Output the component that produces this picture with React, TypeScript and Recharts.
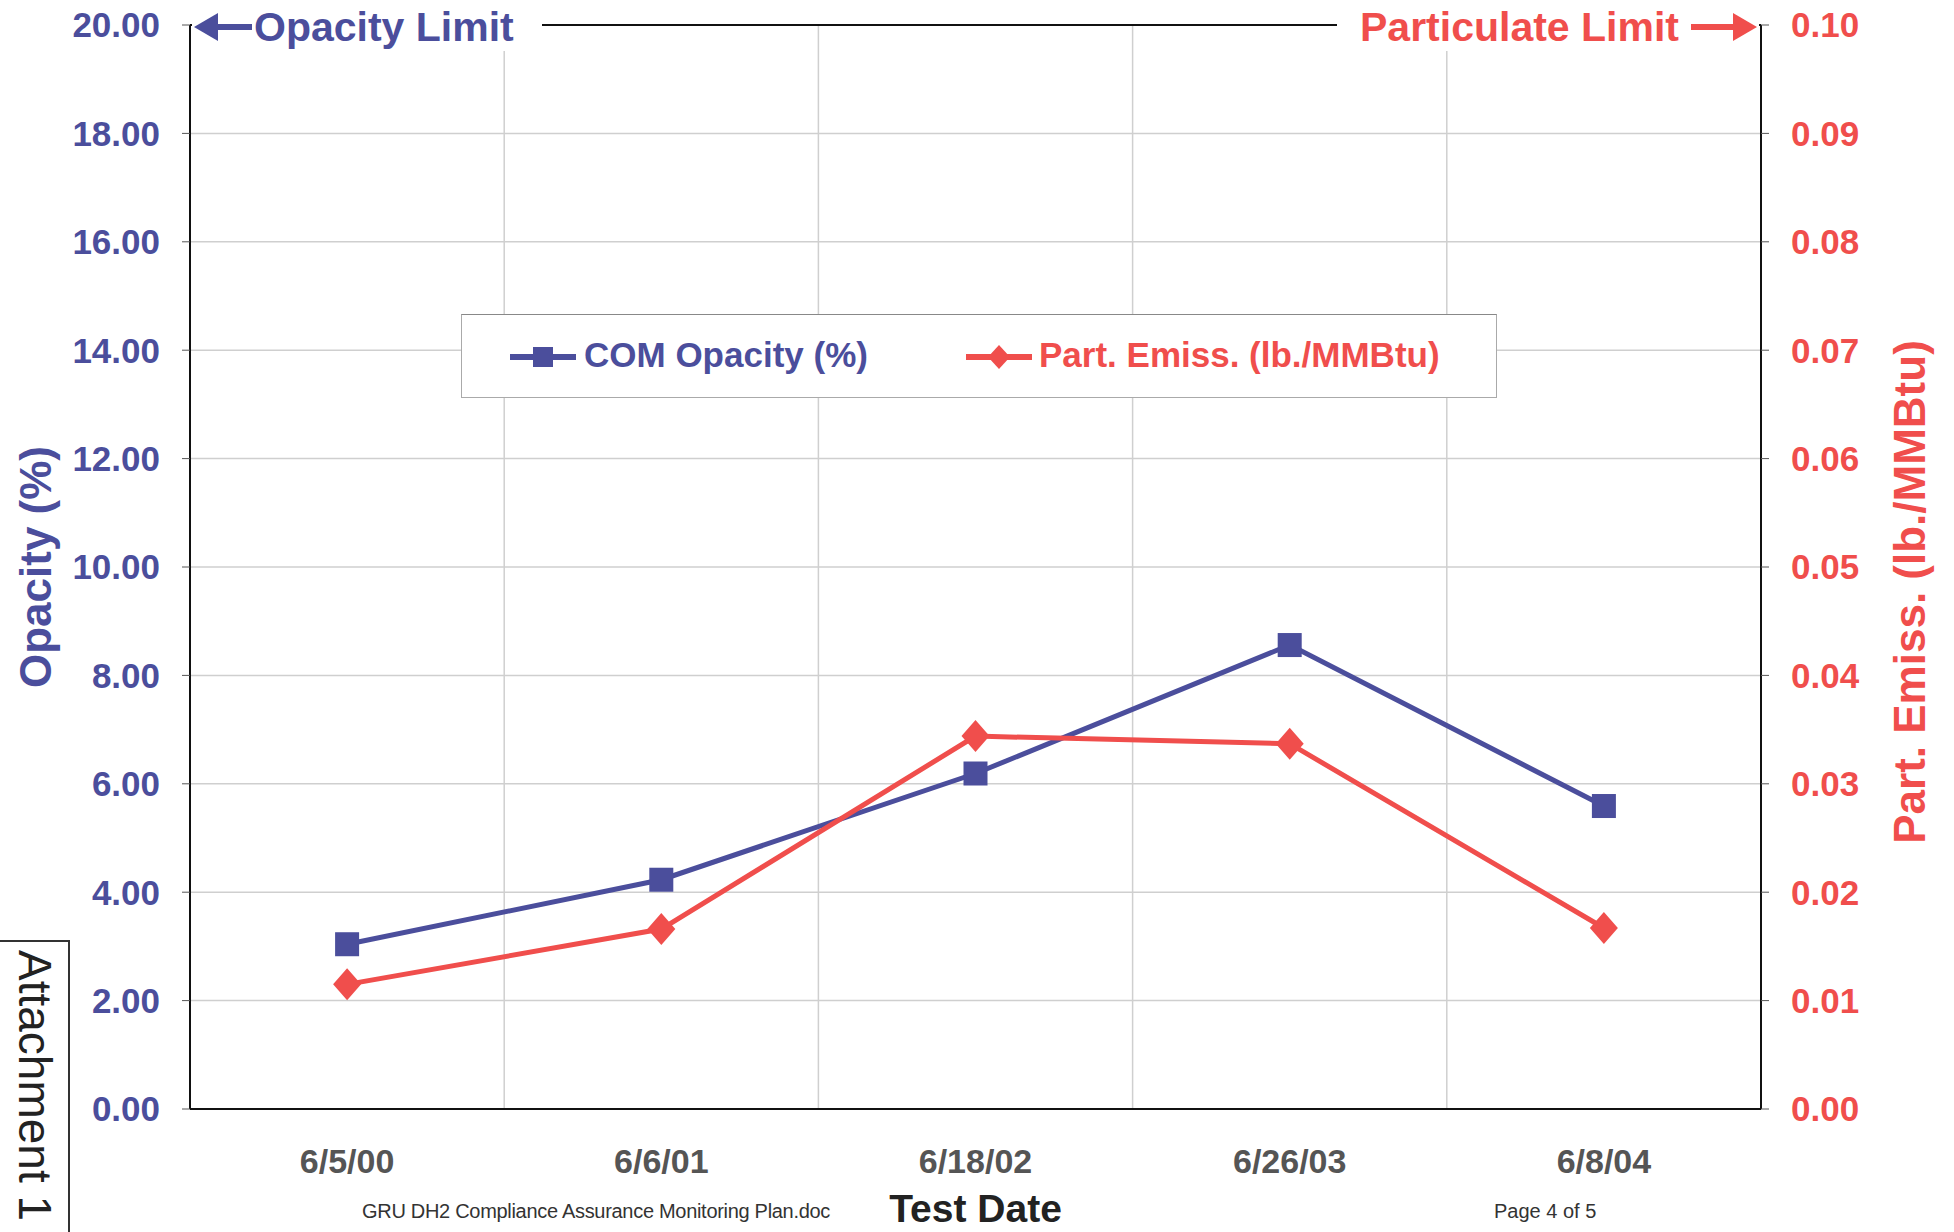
import React from 'react';
import { LineChart, Line, XAxis, YAxis, CartesianGrid, Legend, ReferenceLine } from 'recharts';

const testDates = ['6/5/00', '6/6/01', '6/18/02', '6/26/03', '6/8/04'];
const comOpacity = [3.04, 4.23, 6.19, 8.56, 5.59];
const partEmiss = [0.0115, 0.0166, 0.0344, 0.0337, 0.0167];
const opacityTicks = [0, 2, 4, 6, 8, 10, 12, 14, 16, 18, 20];
const emissTicks = [0, 0.01, 0.02, 0.03, 0.04, 0.05, 0.06, 0.07, 0.08, 0.09, 0.1];

const seriesNames = ['COM Opacity (%)', 'Part. Emiss. (lb./MMBtu)'];
const limitLabels = ['Opacity Limit', 'Particulate Limit'];

const BLUE = '#4B4E9C';
const RED = '#F04E4C';
const FONT = '"Liberation Sans", Arial, sans-serif';

const data = testDates.map((date, i) => ({
  date,
  opacity: comOpacity[i],
  emiss: partEmiss[i],
}));

const SquareDot = (props: any) => {
  const { cx, cy } = props;
  if (cx == null || cy == null) return null;
  return <rect x={cx - 12} y={cy - 12} width={24} height={24} fill={BLUE} />;
};

const DiamondDot = (props: any) => {
  const { cx, cy } = props;
  if (cx == null || cy == null) return null;
  return (
    <polygon
      points={`${cx},${cy - 16} ${cx + 14},${cy} ${cx},${cy + 16} ${cx - 14},${cy}`}
      fill={RED}
    />
  );
};

// the two limit labels sitting on the top frame line
const LimitLabels = (props: any) => {
  const { viewBox } = props;
  if (!viewBox) return null;
  const { x, y, width } = viewBox;
  const right = x + width;
  return (
    <g fontFamily={FONT} fontWeight="bold" fontSize={41}>
      <rect x={x + 2} y={y - 26} width={350} height={52} fill="#fff" />
      <polygon points={`${x + 4},${y + 2} ${x + 28},${y - 12} ${x + 28},${y + 16}`} fill={BLUE} />
      <rect x={x + 26} y={y - 1} width={36} height={6} fill={BLUE} />
      <text x={x + 64} y={y + 2} fill={BLUE} dominantBaseline="central">
        {limitLabels[0]}
      </text>
      <rect x={right - 424} y={y - 26} width={422} height={52} fill="#fff" />
      <text x={right - 82} y={y + 2} fill={RED} textAnchor="end" dominantBaseline="central">
        {limitLabels[1]}
      </text>
      <rect x={right - 70} y={y - 1} width={44} height={6} fill={RED} />
      <polygon points={`${right - 4},${y + 2} ${right - 28},${y - 12} ${right - 28},${y + 16}`} fill={RED} />
    </g>
  );
};

const LegendBox = () => (
  <div
    style={{
      width: 1036,
      height: 84,
      boxSizing: 'border-box',
      border: '1.5px solid #aaa',
      borderTopColor: '#888',
      background: '#fff',
      position: 'relative',
      fontFamily: FONT,
      fontWeight: 'bold',
      fontSize: 35,
    }}
  >
    <svg width={70} height={30} style={{ position: 'absolute', left: 48, top: 27 }}>
      <rect x={0} y={12} width={66} height={6} fill={BLUE} />
      <rect x={23} y={5} width={20} height={20} fill={BLUE} />
    </svg>
    <span style={{ position: 'absolute', left: 122, top: 20, color: BLUE, whiteSpace: 'nowrap' }}>
      {seriesNames[0]}
    </span>
    <svg width={70} height={30} style={{ position: 'absolute', left: 504, top: 27 }}>
      <rect x={0} y={12} width={66} height={6} fill={RED} />
      <polygon points="33,3 44,15 33,27 22,15" fill={RED} />
    </svg>
    <span style={{ position: 'absolute', left: 577, top: 20, color: RED, whiteSpace: 'nowrap' }}>
      {seriesNames[1]}
    </span>
  </div>
);

const App = () => {
  return (
    <div
      style={{
        position: 'absolute',
        left: 0,
        top: 0,
        width: 1954,
        height: 1232,
        background: '#fff',
        overflow: 'hidden',
      }}
    >
      <LineChart
        width={1954}
        height={1232}
        data={data}
        margin={{ top: 25, right: 33, bottom: 43, left: 35 }}
      >
        <CartesianGrid
          yAxisId="left"
          stroke="#cfcfcf"
          strokeWidth={1.5}
          verticalCoordinatesGenerator={({ offset }: any) =>
            testDates.slice(1).map((_, i) => offset.left + ((i + 1) * offset.width) / testDates.length)
          }
        />
        <XAxis
          dataKey="date"
          scale="band"
          axisLine={{ stroke: '#111', strokeWidth: 2 }}
          tickLine={false}
          tickSize={0}
          tickMargin={40}
          height={80}
          tick={{ fill: '#555', fontSize: 34, fontWeight: 'bold', fontFamily: FONT }}
          label={(props: any) => {
            const vb = props.viewBox;
            if (!vb) return null;
            return (
              <text
                x={vb.x + vb.width / 2}
                y={1208}
                textAnchor="middle"
                dominantBaseline="central"
                fontFamily={FONT}
                fontWeight="bold"
                fontSize={39}
                fill="#222"
              >
                Test Date
              </text>
            );
          }}
        />
        <YAxis
          yAxisId="left"
          width={155}
          domain={[0, 20]}
          ticks={opacityTicks}
          tickFormatter={(v: number) => v.toFixed(2)}
          axisLine={{ stroke: '#111', strokeWidth: 2 }}
          tickLine={{ stroke: '#555' }}
          tickSize={8}
          tickMargin={22}
          tick={{ fill: BLUE, fontSize: 35, fontWeight: 'bold', fontFamily: FONT }}
          label={(props: any) => {
            const vb = props.viewBox;
            if (!vb) return null;
            const cy = vb.y + vb.height / 2;
            return (
              <text
                x={35}
                y={cy}
                transform={`rotate(-90, 35, ${cy})`}
                textAnchor="middle"
                dominantBaseline="central"
                fontFamily={FONT}
                fontWeight="bold"
                fontSize={44}
                fill={BLUE}
              >
                Opacity (%)
              </text>
            );
          }}
        />
        <YAxis
          yAxisId="right"
          orientation="right"
          width={160}
          domain={[0, 0.1]}
          ticks={emissTicks}
          tickFormatter={(v: number) => v.toFixed(2)}
          axisLine={{ stroke: '#111', strokeWidth: 2 }}
          tickLine={{ stroke: '#555' }}
          tickSize={8}
          tickMargin={22}
          tick={{ fill: RED, fontSize: 35, fontWeight: 'bold', fontFamily: FONT }}
          label={(props: any) => {
            const vb = props.viewBox;
            if (!vb) return null;
            const cx = vb.x + 148;
            const cy = vb.y + vb.height / 2 + 25;
            return (
              <text
                x={cx}
                y={cy}
                transform={`rotate(-90, ${cx}, ${cy})`}
                textAnchor="middle"
                dominantBaseline="central"
                fontFamily={FONT}
                fontWeight="bold"
                fontSize={44}
                fill={RED}
              >
                Part. Emiss. (lb./MMBtu)
              </text>
            );
          }}
        />
        <ReferenceLine
          yAxisId="left"
          y={20}
          stroke="#111"
          strokeWidth={2}
          label={<LimitLabels />}
        />
        <Legend
          layout="horizontal"
          verticalAlign="middle"
          align="center"
          content={() => <LegendBox />}
          wrapperStyle={{ position: 'absolute', left: 461, top: 314, width: 1036, height: 84 }}
        />
        <Line
          yAxisId="left"
          dataKey="opacity"
          name={seriesNames[0]}
          stroke={BLUE}
          strokeWidth={5}
          dot={<SquareDot />}
          activeDot={false}
          isAnimationActive={false}
        />
        <Line
          yAxisId="right"
          dataKey="emiss"
          name={seriesNames[1]}
          stroke={RED}
          strokeWidth={5}
          dot={<DiamondDot />}
          activeDot={false}
          isAnimationActive={false}
        />
      </LineChart>
      <div
        style={{
          position: 'absolute',
          left: 0,
          top: 940,
          width: 70,
          height: 300,
          borderTop: '2px solid #333',
          borderRight: '2px solid #333',
          boxSizing: 'border-box',
          writingMode: 'vertical-rl',
          fontFamily: FONT,
          fontSize: 46,
          color: '#222',
          lineHeight: '66px',
          paddingTop: 8,
          whiteSpace: 'nowrap',
        }}
      >
        Attachment 1
      </div>
      <div
        style={{
          position: 'absolute',
          left: 362,
          top: 1200,
          fontFamily: FONT,
          fontSize: 20,
          color: '#333',
          whiteSpace: 'nowrap',
          letterSpacing: -0.3,
        }}
      >
        GRU DH2 Compliance Assurance Monitoring Plan.doc
      </div>
      <div
        style={{
          position: 'absolute',
          left: 1494,
          top: 1200,
          fontFamily: FONT,
          fontSize: 20,
          color: '#333',
          whiteSpace: 'nowrap',
        }}
      >
        Page 4 of 5
      </div>
    </div>
  );
};

export default App;
